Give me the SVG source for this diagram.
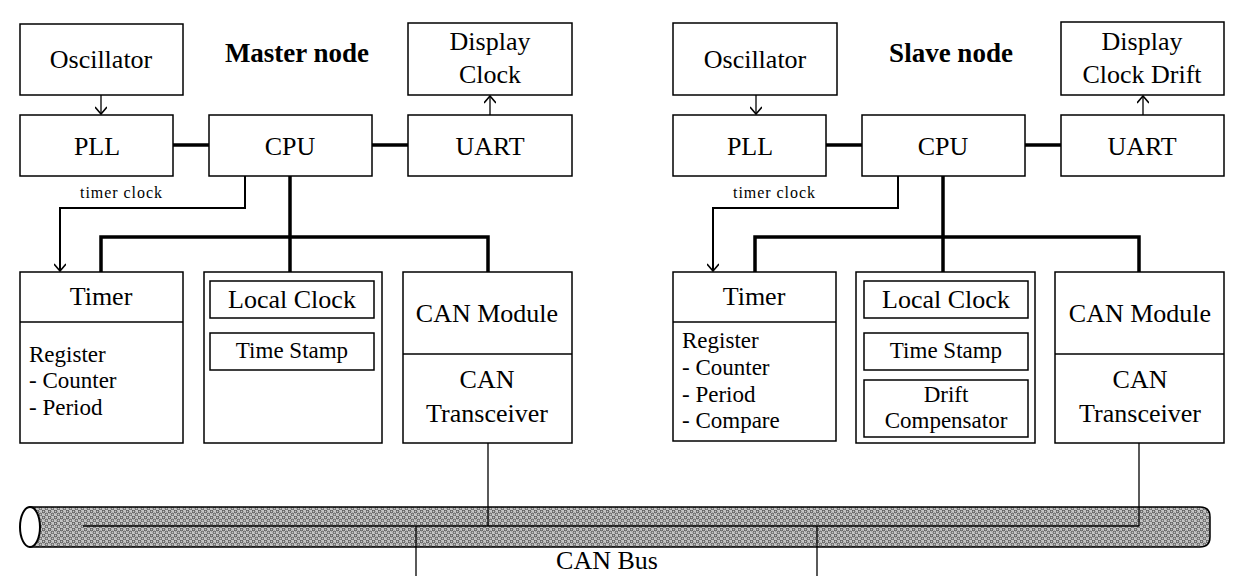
<svg xmlns="http://www.w3.org/2000/svg" width="1233" height="576" viewBox="0 0 1233 576">
<defs>
<style>
.box{fill:#fff;stroke:#000;stroke-width:1.5}
.t{font-family:"Liberation Serif","Times New Roman",serif;fill:#000}
.l{font-size:26px;text-anchor:middle}
.s{font-size:23px}
.sm{font-size:23px;text-anchor:middle}
.b{font-size:27px;font-weight:bold;text-anchor:middle}
.bus{fill:none;stroke:#000;stroke-width:3.5}
.clk{fill:none;stroke:#000;stroke-width:2}
.thin{fill:none;stroke:#000;stroke-width:1.3}
</style>
<marker id="arr" viewBox="0 0 12 12" refX="11" refY="6" markerWidth="12" markerHeight="12" markerUnits="userSpaceOnUse" orient="auto">
<path d="M4,0 L11,6 L4,12" fill="none" stroke="#000" stroke-width="1.6"/>
</marker>
<pattern id="dots" width="6" height="6" patternUnits="userSpaceOnUse">
<rect width="6" height="6" fill="#c4c4c4"/>
<circle cx="1.5" cy="1.5" r="1.3" fill="none" stroke="#333" stroke-width="0.9"/>
<circle cx="4.5" cy="4.5" r="1.3" fill="none" stroke="#444" stroke-width="0.9"/>
</pattern>
</defs>
<rect width="1233" height="576" fill="#fff"/>

<g id="connectors">
<!-- master -->
<line x1="101" y1="95" x2="101" y2="114" class="thin" marker-end="url(#arr)"/>
<line x1="490" y1="115" x2="490" y2="96" class="thin" marker-end="url(#arr)"/>
<line x1="173" y1="145" x2="209" y2="145" class="bus"/>
<line x1="372" y1="145" x2="408" y2="145" class="bus"/>
<polyline points="245,176 245,208 60,208 60,271" class="clk" marker-end="url(#arr)"/>
<line x1="290" y1="176" x2="290" y2="272" class="bus"/>
<polyline points="101,272 101,237 488,237 488,272" class="bus"/>
<!-- slave -->
<line x1="756" y1="95" x2="756" y2="114" class="thin" marker-end="url(#arr)"/>
<line x1="1143" y1="115" x2="1143" y2="96" class="thin" marker-end="url(#arr)"/>
<line x1="826" y1="145" x2="862" y2="145" class="bus"/>
<line x1="1025" y1="145" x2="1061" y2="145" class="bus"/>
<polyline points="898,176 898,208 713,208 713,271" class="clk" marker-end="url(#arr)"/>
<line x1="943" y1="176" x2="943" y2="272" class="bus"/>
<polyline points="755,272 755,237 1139,237 1139,272" class="bus"/>
</g>

<g id="can-bus">
<path d="M30,507 L1200,507 Q1210,507 1210,517 L1210,537 Q1210,547 1200,547 L30,547 Z" fill="url(#dots)" stroke="#000" stroke-width="1.5"/>
<ellipse cx="30" cy="527" rx="10" ry="20" fill="#fff" stroke="#000" stroke-width="2"/>
<line x1="83" y1="526" x2="1139" y2="526" class="thin"/>
<line x1="488" y1="443" x2="488" y2="526" class="thin"/>
<line x1="1139" y1="443" x2="1139" y2="526" class="thin"/>
<line x1="416" y1="526" x2="416" y2="576" class="thin"/>
<line x1="817" y1="526" x2="817" y2="576" class="thin"/>
<text x="607" y="569" class="t l">CAN Bus</text>
</g>

<text id="master-title" x="297" y="62" class="t b">Master node</text>
<text id="slave-title" x="951" y="62" class="t b">Slave node</text>

<g id="m-osc"><rect x="20" y="24" width="163" height="71" class="box"/><text x="101" y="68" class="t l">Oscillator</text></g>
<g id="m-pll"><rect x="20" y="115" width="153" height="61" class="box"/><text x="97" y="155" class="t l">PLL</text></g>
<g id="m-cpu"><rect x="209" y="115" width="163" height="61" class="box"/><text x="290" y="155" class="t l">CPU</text></g>
<g id="m-uart"><rect x="408" y="115" width="164" height="61" class="box"/><text x="490" y="155" class="t l">UART</text></g>
<g id="m-display"><rect x="408" y="23" width="164" height="72" class="box"/><text x="490" y="50" class="t l">Display</text><text x="490" y="83" class="t l">Clock</text></g>

<g id="m-timer"><rect x="20" y="272" width="163" height="171" class="box"/><line x1="20" y1="322" x2="183" y2="322" class="thin"/><text x="101" y="305" class="t l">Timer</text><text x="29" y="362" class="t s">Register</text><text x="29" y="388" class="t s">- Counter</text><text x="29" y="415" class="t s">- Period</text></g>
<g id="m-local"><rect x="204" y="272" width="178" height="171" class="box"/><rect x="210" y="281" width="164" height="37" class="box"/><text x="292" y="308" class="t l">Local Clock</text><rect x="210" y="333" width="164" height="37" class="box"/><text x="292" y="358" class="t sm">Time Stamp</text></g>
<g id="m-can"><rect x="403" y="272" width="169" height="171" class="box"/><line x1="403" y1="354" x2="572" y2="354" class="thin"/><text x="487" y="322" class="t l">CAN Module</text><text x="487" y="388" class="t l">CAN</text><text x="487" y="422" class="t l">Transceiver</text></g>

<g id="s-osc"><rect x="673" y="23" width="164" height="72" class="box"/><text x="755" y="68" class="t l">Oscillator</text></g>
<g id="s-pll"><rect x="673" y="115" width="153" height="61" class="box"/><text x="750" y="155" class="t l">PLL</text></g>
<g id="s-cpu"><rect x="862" y="115" width="163" height="61" class="box"/><text x="943" y="155" class="t l">CPU</text></g>
<g id="s-uart"><rect x="1061" y="115" width="163" height="61" class="box"/><text x="1142" y="155" class="t l">UART</text></g>
<g id="s-display"><rect x="1061" y="22" width="163" height="73" class="box"/><text x="1142" y="50" class="t l">Display</text><text x="1142" y="83" class="t l">Clock Drift</text></g>

<g id="s-timer"><rect x="673" y="272" width="163" height="169" class="box"/><line x1="673" y1="322" x2="836" y2="322" class="thin"/><text x="754" y="305" class="t l">Timer</text><text x="682" y="348" class="t s">Register</text><text x="682" y="375" class="t s">- Counter</text><text x="682" y="402" class="t s">- Period</text><text x="682" y="428" class="t s">- Compare</text></g>
<g id="s-local"><rect x="856" y="272" width="179" height="171" class="box"/><rect x="864" y="281" width="164" height="37" class="box"/><text x="946" y="308" class="t l">Local Clock</text><rect x="864" y="333" width="164" height="37" class="box"/><text x="946" y="358" class="t sm">Time Stamp</text><rect x="864" y="380" width="164" height="57" class="box"/><text x="946" y="402" class="t sm">Drift</text><text x="946" y="428" class="t sm">Compensator</text></g>
<g id="s-can"><rect x="1055" y="272" width="169" height="171" class="box"/><line x1="1055" y1="354" x2="1224" y2="354" class="thin"/><text x="1140" y="322" class="t l">CAN Module</text><text x="1140" y="388" class="t l">CAN</text><text x="1140" y="422" class="t l">Transceiver</text></g>

<text id="m-timer-clock" x="80" y="198" class="t" font-size="16" textLength="82">timer clock</text>
<text id="s-timer-clock" x="733" y="198" class="t" font-size="16" textLength="82">timer clock</text>
</svg>
